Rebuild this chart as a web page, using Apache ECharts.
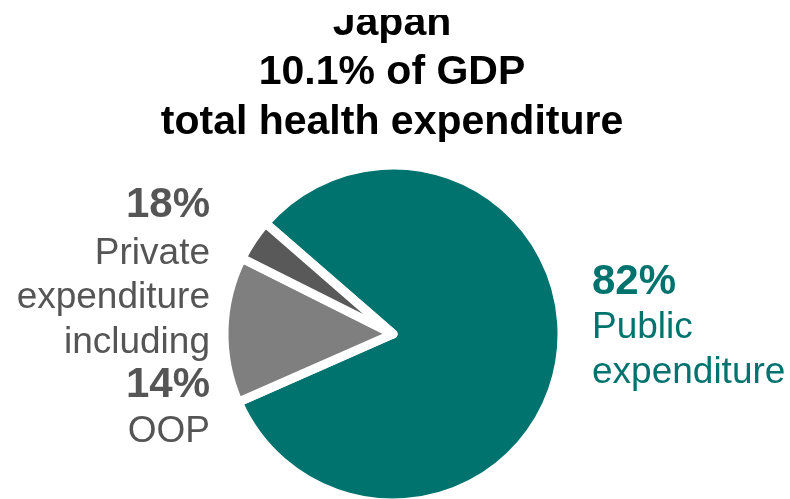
<!DOCTYPE html>
<html>
<head>
<meta charset="utf-8">
<script src="https://cdn.jsdelivr.net/npm/echarts@6/dist/echarts.min.js"></script>
<style>
html,body{margin:0;padding:0;background:#fff;}
#chart{width:790px;height:499px;}
</style>
</head>
<body>
<div id="chart"></div>
<script>
// ---- data ----
const titleLines = ['Japan', '10.1% of GDP', 'total health expenditure'];
const categories = ['Public expenditure', 'Private expenditure (OOP)', 'Private expenditure (other)'];
const shares = [82, 14, 4];
const privateShare = 18;
const oopShare = 14;
const publicShare = 82;
const leftLabelLines = [
  { text: privateShare + '%', bold: true },
  { text: 'Private', bold: false },
  { text: 'expenditure', bold: false },
  { text: 'including', bold: false },
  { text: oopShare + '%', bold: true },
  { text: 'OOP', bold: false }
];
const rightLabelLines = [
  { text: publicShare + '%', bold: true },
  { text: 'Public', bold: false },
  { text: 'expenditure', bold: false }
];

// ---- styles ----
const TEAL = '#00736E';
const DARK = '#595959';
const LIGHT = '#7F7F7F';
const TEXTGREY = '#555555';
const FONT = '"Liberation Sans", Arial, Helvetica, sans-serif';
const colors = [TEAL, LIGHT, DARK];

const titleY = [24, 73, 123];
const leftY = [205, 254, 298, 343, 385, 432];
const rightY = [282, 328, 373];

const graphics = [];
titleLines.forEach((t, i) => {
  graphics.push({
    type: 'text', x: 392, y: titleY[i], z: 10,
    style: { text: t, fill: '#000', font: 'bold 41px ' + FONT, align: 'center', verticalAlign: 'middle' }
  });
});
leftLabelLines.forEach((l, i) => {
  graphics.push({
    type: 'text', x: 210, y: leftY[i], z: 10,
    style: { text: l.text, fill: TEXTGREY, font: (l.bold ? 'bold 42px ' : '37px ') + FONT, align: 'right', verticalAlign: 'middle' }
  });
});
rightLabelLines.forEach((l, i) => {
  graphics.push({
    type: 'text', x: 592, y: rightY[i], z: 10,
    style: { text: l.text, fill: TEAL, font: (l.bold ? 'bold 42px ' : '37px ') + FONT, align: 'left', verticalAlign: 'middle' }
  });
});
// top edge of the reference picture is cropped
graphics.push({ type: 'rect', z: 20, shape: { x: 0, y: 0, width: 790, height: 15 }, style: { fill: '#fff' } });

const chart = echarts.init(document.getElementById('chart'), null, { renderer: 'canvas' });
chart.setOption({
  backgroundColor: '#fff',
  animation: false,
  graphic: graphics,
  series: [{
    type: 'pie',
    center: [393, 334],
    radius: 169,
    startAngle: 139,
    clockwise: true,
    silent: true,
    label: { show: false },
    labelLine: { show: false },
    emphasis: { disabled: true },
    itemStyle: { borderColor: '#fff', borderWidth: 9 },
    data: categories.map((c, i) => ({ name: c, value: shares[i], itemStyle: { color: colors[i] } }))
  }]
});
</script>
</body>
</html>
